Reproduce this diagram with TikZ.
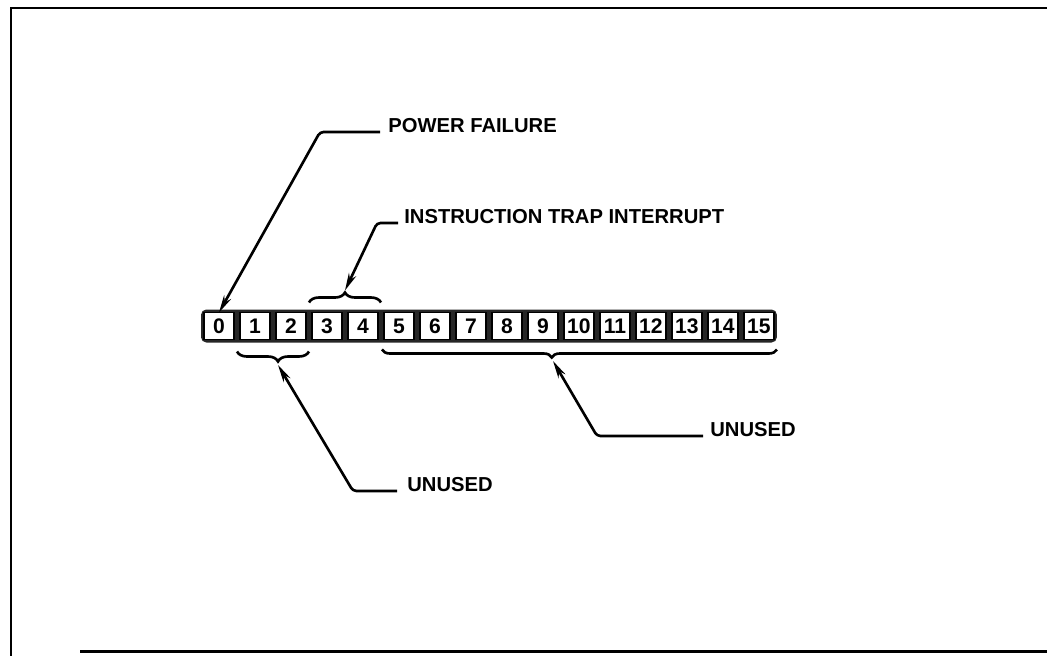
\documentclass[tikz,border=0pt]{standalone}
\usepackage{fontspec}
\setmainfont{Liberation Sans}
\usetikzlibrary{arrows.meta,positioning,calc,fit,backgrounds,decorations.pathreplacing}

\begin{document}
\begin{tikzpicture}[
  x=0.02cm, y=-0.02cm,
  node distance=0.12cm,
  cell/.style={draw, line width=1pt, fill=white, minimum width=0.6cm, minimum height=0.54cm, inner sep=0pt, outer sep=0pt, font=\fontsize{12}{13}\selectfont\bfseries},
  regbar/.style={fill=black!85, rounded corners=3pt, inner xsep=0.06cm, inner ysep=0.06cm},
  lbl/.style={anchor=base west, inner sep=0pt, font=\fontsize{11.5}{13}\selectfont\bfseries},
  lead/.style={line width=1.5pt, rounded corners=2pt},
  arr/.style={lead, -{Stealth[length=10pt, width=4.5pt]}},
  brc/.style={decorate, line width=1.5pt, decoration={brace, amplitude=0.2cm}},
  frame/.style={line width=1.7pt}
]
\useasboundingbox (0,0) rectangle (1047,656);

% Frame
\draw[frame] (1047,8) -- (11,8) -- (11,656);
\draw[frame] (80,651) -- (1047,651);

% Register cells
\node[cell] (c0) at (219,326) {0};
\node[cell, right=of c0] (c1) {1};
\node[cell, right=of c1] (c2) {2};
\node[cell, right=of c2] (c3) {3};
\node[cell, right=of c3] (c4) {4};
\node[cell, right=of c4] (c5) {5};
\node[cell, right=of c5] (c6) {6};
\node[cell, right=of c6] (c7) {7};
\node[cell, right=of c7] (c8) {8};
\node[cell, right=of c8] (c9) {9};
\node[cell, right=of c9] (c10) {10};
\node[cell, right=of c10] (c11) {11};
\node[cell, right=of c11] (c12) {12};
\node[cell, right=of c12] (c13) {13};
\node[cell, right=of c13] (c14) {14};
\node[cell, right=of c14] (c15) {15};
\begin{scope}[on background layer]
  \node[regbar, fit=(c0)(c15)] (reg) {};
\end{scope}

% Braces
\draw[brc] ($(c3.north west)+(-3,-10)$) -- ($(c4.north east)+(3,-10)$);
\draw[brc, decoration={mirror, aspect=0.57}] ($(c1.south west)+(-3,12)$) -- ($(c2.south east)+(3,12)$);
\draw[brc, decoration={mirror, aspect=0.43, amplitude=0.16cm}] ($(c5.south west)+(-2,10)$) -- ($(c15.south east)+(3,10)$);
\coordinate (tip34) at ($(c3.north east)!0.5!(c4.north west)+(0,-22)$);
\coordinate (tip12) at (278,365);
\coordinate (tip515) at (553,361);

% Labels
\node[lbl] (pf) at (388,132) {POWER FAILURE};
\node[lbl] (trap) at (404,223) {INSTRUCTION TRAP INTERRUPT};
\node[lbl] (u1) at (407,491) {UNUSED};
\node[lbl] (u2) at (710,436) {UNUSED};

% Leaders
\draw[arr] ([xshift=-0.16cm]pf.base west) -- ++(-60,0) -- (c0.north);
\draw[arr] ([xshift=-0.12cm]trap.base west) -- ++(-21,0) -- (tip34);
\draw[arr] ([xshift=-0.2cm]u1.base west) -- ++(-44,0) -- (tip12);
\draw[arr] ([xshift=-0.14cm]u2.base west) -- ++(-106,0) -- (tip515);

\end{tikzpicture}
\end{document}
